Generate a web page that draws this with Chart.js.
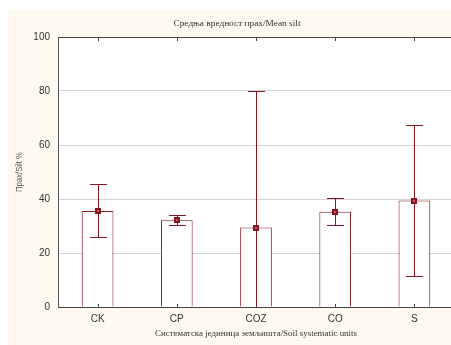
<!DOCTYPE html>
<html><head><meta charset="utf-8">
<script src="https://cdn.jsdelivr.net/npm/chart.js@4"></script>
<style>html,body{margin:0;padding:0;background:#fff;overflow:hidden;width:451px;height:345px}
#wrap{position:absolute;left:0;top:0;width:454px;height:345px}</style>
</head><body><div id="wrap"><canvas id="c" width="454" height="345"></canvas></div>
<script>
const categories = ['CK','CP','COZ','CO','S'];
const means = [35.6, 32.1, 29.4, 35.3, 39.4];
const upper = [45.5, 34.2, 80.0, 40.5, 67.4];
const lower = [25.8, 30.3, -21.2, 30.4, 11.4];
const yTicks = [0, 20, 40, 60, 80, 100];
const titleText = 'Средња вредност прах/Mean silt';
const xTitle = 'Систематска јединица земљишта/Soil systematic units';
const yTitle = 'Прах/Silt %';

const RED = '#861520';
const CREAM = '#fdf9ee';

const deco = {
  id: 'deco',
  beforeDraw(chart) {
    const ctx = chart.ctx, a = chart.chartArea;
    ctx.save();
    ctx.fillStyle = '#fff'; ctx.fillRect(0, 0, chart.width, chart.height);
    ctx.fillStyle = CREAM; ctx.fillRect(8, 10, chart.width - 8, chart.height - 10);
    ctx.fillStyle = '#fff'; ctx.fillRect(a.left, a.top, chart.width - a.left, a.bottom - a.top);
    ctx.restore();
  },
  afterDraw(chart) {
    const ctx = chart.ctx, a = chart.chartArea;
    const xs = chart.scales.x, ys = chart.scales.y;
    ctx.save();
    ctx.strokeStyle = '#444'; ctx.lineWidth = 1;
    ctx.beginPath(); ctx.moveTo(a.left, a.top + 0.5); ctx.lineTo(chart.width, a.top + 0.5); ctx.stroke();
    categories.forEach((c, i) => {
      const x = Math.round(xs.getPixelForValue(i)) + 0.5;
      ctx.beginPath();
      ctx.moveTo(x, a.top); ctx.lineTo(x, a.top + 4);
      ctx.moveTo(x, a.bottom); ctx.lineTo(x, a.bottom - 3);
      ctx.stroke();
    });
    ctx.restore();
    ctx.save();
    ctx.beginPath(); ctx.rect(a.left, a.top, chart.width - a.left, a.bottom - a.top); ctx.clip();
    ctx.lineWidth = 1;
    means.forEach((m, i) => {
      ctx.strokeStyle = RED;
      const x = Math.round(xs.getPixelForValue(i)) + 0.5;
      const yu = Math.round(ys.getPixelForValue(upper[i])) + 0.5;
      const yl = Math.round(ys.getPixelForValue(lower[i])) + 0.5;
      ctx.beginPath();
      ctx.moveTo(x, yu); ctx.lineTo(x, yl);
      ctx.moveTo(x - 8.5, yu); ctx.lineTo(x + 8.5, yu);
      ctx.moveTo(x - 8.5, yl); ctx.lineTo(x + 8.5, yl);
      ctx.stroke();
      const ym = Math.round(ys.getPixelForValue(m));
      ctx.fillStyle = RED; ctx.fillRect(x - 3.5, ym - 3, 6, 6);
      ctx.fillStyle = '#b86060'; ctx.fillRect(x - 1.5, ym - 1, 2, 2);
    });
    ctx.restore();
    ctx.save();
    ctx.textAlign = 'center'; ctx.textBaseline = 'middle';
    const fitText = (t, x, y, w) => {
      const mw = ctx.measureText(t).width;
      ctx.save(); ctx.translate(x, y); ctx.scale(w / mw, 1); ctx.fillText(t, 0, 0); ctx.restore();
    };
    ctx.fillStyle = '#333';
    ctx.font = '9px "Liberation Serif"';
    fitText(titleText, 237, 24, 127);
    fitText(xTitle, 256, 334, 202);
    ctx.save(); ctx.translate(20, 172); ctx.rotate(-Math.PI / 2);
    ctx.fillStyle = '#555';
    ctx.font = '9px "Liberation Sans"';
    fitText(yTitle, 0, 0, 40);
    ctx.restore();
    ctx.restore();
  }
};

new Chart(document.getElementById('c'), {
  type: 'bar',
  data: {
    labels: categories,
    datasets: [{
      data: means,
      backgroundColor: '#ffffff',
      borderColor: RED,
      borderWidth: 1,
      barPercentage: 0.40,
      categoryPercentage: 1.0
    }]
  },
  options: {
    responsive: false,
    animation: false,
    devicePixelRatio: 1,
    layout: { padding: { top: 37, left: 0, right: 0, bottom: 0 } },
    plugins: { legend: { display: false }, title: { display: false }, tooltip: { enabled: false } },
    scales: {
      x: {
        grid: { display: false, drawTicks: false },
        border: { display: true, color: '#444', width: 1 },
        ticks: { color: '#333', font: { family: 'Liberation Sans', size: 10 }, padding: 6 },
        afterFit(s) { s.height = 38; }
      },
      y: {
        min: 0, max: 100,
        afterBuildTicks(s) { s.ticks = yTicks.map(v => ({ value: v })); },
        grid: { color: c => (c.tick && (c.tick.value === 0 || c.tick.value === 100)) ? 'rgba(0,0,0,0)' : '#d4d4d4', drawTicks: false },
        border: { display: true, color: '#555', width: 1 },
        ticks: { color: '#333', font: { family: 'Liberation Sans', size: 10 }, padding: 8 },
        afterFit(s) { s.width = 58; }
      }
    }
  },
  plugins: [deco]
});
</script></body></html>
